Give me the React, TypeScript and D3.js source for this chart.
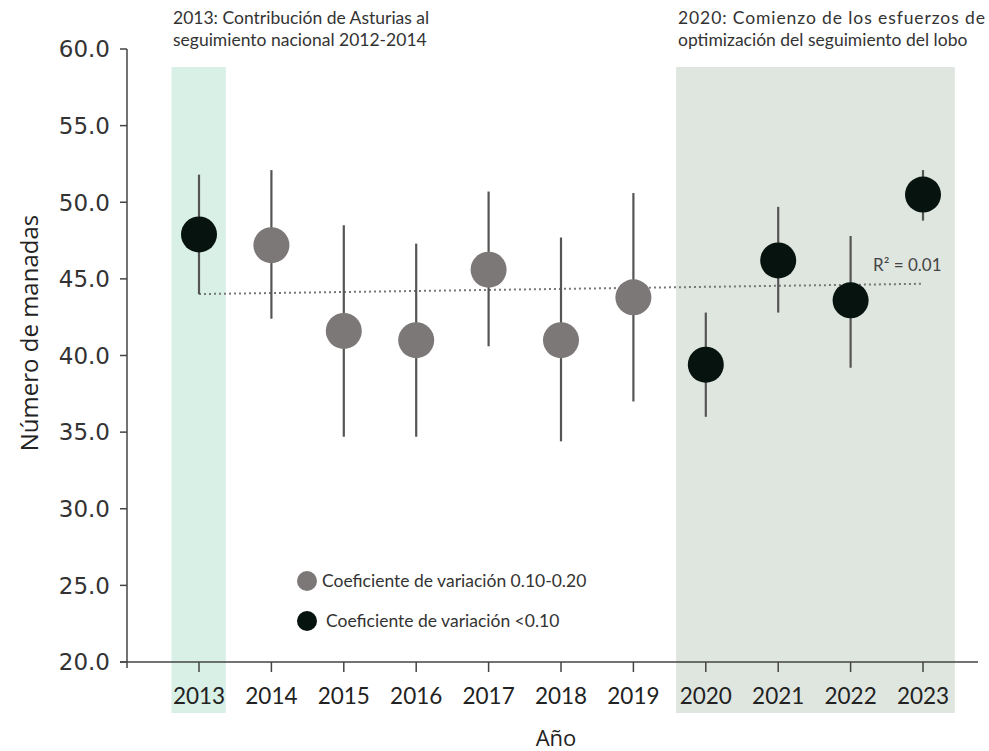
import React from "react";
import * as d3 from "d3";

const years = [2013, 2014, 2015, 2016, 2017, 2018, 2019, 2020, 2021, 2022, 2023];
const values = [47.9, 47.2, 41.6, 41.0, 45.6, 41.0, 43.8, 39.4, 46.2, 43.6, 50.5];
const upper = [51.8, 52.1, 48.5, 47.3, 50.7, 47.7, 50.6, 42.8, 49.7, 47.8, 52.1];
const lower = [44.0, 42.4, 34.7, 34.7, 40.6, 34.4, 37.0, 36.0, 42.8, 39.2, 48.8];
const cvGroup = ["low", "high", "high", "high", "high", "high", "high", "low", "low", "low", "low"];
const yTicks = [20, 25, 30, 35, 40, 45, 50, 55, 60];
const bandStarts = [2012.62, 2019.59];
const bandEnds = [2013.37, 2023.44];
const bandColors = ["#d8f0e6", "#dfe6e0"];
const legendLabels = ["Coeficiente de variación 0.10-0.20", "Coeficiente de variación <0.10"];

const W = 989, H = 751;
const GRAY = "#7c7877";
const BLACK = "#07130f";

export default function App() {
  const x = d3.scaleLinear().domain([2012, 2024]).range([126.6, 995.4]);
  const y = d3.scaleLinear().domain([20, 60]).range([662, 49]);

  const mx = d3.mean(years)!;
  const my = d3.mean(values)!;
  const sxy = d3.sum(years.map((v, i) => (v - mx) * (values[i] - my)));
  const sxx = d3.sum(years.map((v) => (v - mx) ** 2));
  const slope = sxy / sxx;
  const icpt = my - slope * mx;
  const trend = [years[0], years[years.length - 1]].map((v) => [x(v), y(icpt + slope * v)] as [number, number]);
  const line = d3.line();

  const font = "Lato, 'Open Sans', sans-serif";

  return (
    <svg width={W} height={H} style={{ position: "absolute", left: 0, top: 0, background: "#fff" }}>
      {bandStarts.map((s, i) => (
        <rect key={i} x={x(s)} y={67} width={x(bandEnds[i]) - x(s)} height={713 - 67} fill={bandColors[i]} />
      ))}

      <text x={173} y={24} fontFamily={font} fontSize={17.5} fill="#333">2013: Contribución de Asturias al</text>
      <text x={173} y={46} fontFamily={font} fontSize={17.5} fill="#333">seguimiento nacional 2012-2014</text>
      <text x={678} y={24} fontFamily={font} fontSize={17.5} fill="#333" textLength={307} lengthAdjust="spacing">2020: Comienzo de los esfuerzos de</text>
      <text x={678} y={46} fontFamily={font} fontSize={17.5} fill="#333">optimización del seguimiento del lobo</text>

      <line x1={127} x2={127} y1={49} y2={668} stroke="#444" strokeWidth={1.5} />
      <line x1={120} x2={978} y1={662} y2={662} stroke="#444" strokeWidth={1.5} />
      {yTicks.map((t) => (
        <g key={t}>
          <line x1={120} x2={127} y1={y(t)} y2={y(t)} stroke="#444" strokeWidth={1.5} />
          <text x={110} y={y(t)} dy="0.36em" textAnchor="end" fontFamily="'DejaVu Sans', Verdana, sans-serif" fontSize={23} fill="#333">
            {t.toFixed(1)}
          </text>
        </g>
      ))}
      {years.map((yr) => (
        <g key={yr}>
          <line x1={x(yr)} x2={x(yr)} y1={662} y2={672} stroke="#444" strokeWidth={1.5} />
          <text x={x(yr)} y={704} textAnchor="middle" fontFamily={font} fontSize={22.5} fill="#222">{yr}</text>
        </g>
      ))}
      <text x={556} y={746} textAnchor="middle" fontFamily="'Open Sans', sans-serif" fontSize={22} fill="#222">Año</text>
      <text transform="translate(38,333) rotate(-90)" textAnchor="middle" fontFamily="'Open Sans', sans-serif" fontSize={24} fill="#222">Número de manadas</text>

      <path d={line(trend)!} stroke="#777" strokeWidth={2} strokeDasharray="2,3" fill="none" />
      <text x={873} y={271} fontFamily={font} fontSize={17} fill="#444">R² = 0.01</text>

      {years.map((yr, i) => (
        <line key={yr} x1={x(yr)} x2={x(yr)} y1={y(upper[i])} y2={y(lower[i])} stroke="#555" strokeWidth={2.2} />
      ))}
      {years.map((yr, i) => (
        <circle key={yr} cx={x(yr)} cy={y(values[i])} r={18} fill={cvGroup[i] === "high" ? GRAY : BLACK} />
      ))}

      <circle cx={307} cy={581} r={10} fill={GRAY} />
      <text x={322} y={587} fontFamily={font} fontSize={17.5} fill="#333">{legendLabels[0]}</text>
      <circle cx={307} cy={621} r={10} fill={BLACK} />
      <text x={326} y={627} fontFamily={font} fontSize={17.5} fill="#333">{legendLabels[1]}</text>
    </svg>
  );
}
